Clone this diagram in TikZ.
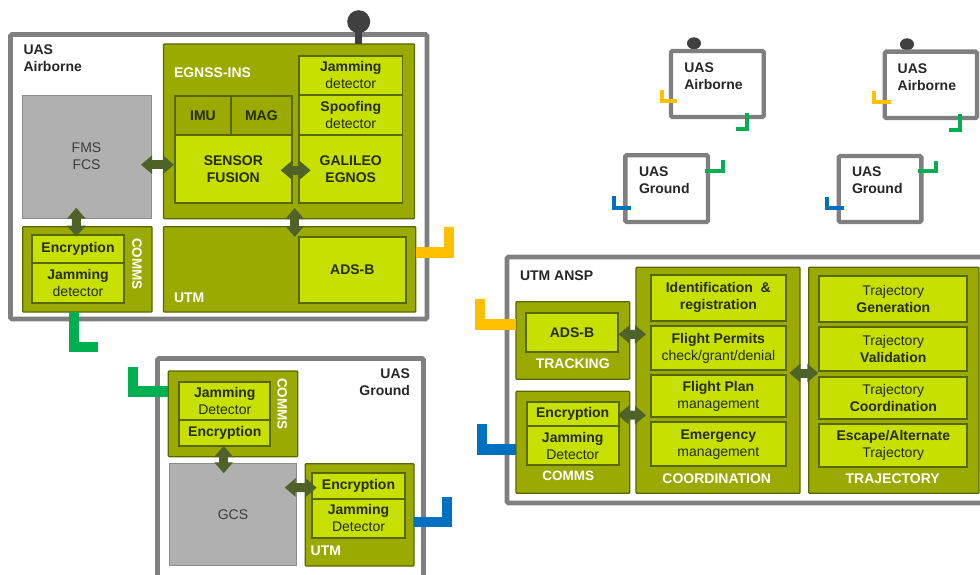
\documentclass[tikz,border=0pt]{standalone}
\usepackage{fontspec}
\setmainfont{Liberation Sans}
\usetikzlibrary{arrows.meta,shapes.geometric}
\definecolor{panelc}{RGB}{155,170,0}
\definecolor{limec}{RGB}{200,224,0}
\definecolor{edgec}{RGB}{88,104,0}
\definecolor{arrowc}{RGB}{79,98,40}
\definecolor{framec}{RGB}{127,127,127}
\definecolor{grayc}{RGB}{176,176,176}
\definecolor{goldc}{RGB}{255,192,0}
\definecolor{greenc}{RGB}{0,176,80}
\definecolor{bluec}{RGB}{0,112,192}
\definecolor{inkc}{RGB}{38,38,38}
\definecolor{softc}{RGB}{40,45,5}
\newcommand\bx[7][]{\node[boxbase,#1,minimum width={(#5-#3)*1pt},minimum height={(#6-#4)*1pt}] (#2) at ({(#3+#5)/2},{(#4+#6)/2}) {#7};}
\tikzset{
  boxbase/.style={inner sep=0pt,outer sep=0pt,align=center,text=softc,font=\fontsize{14}{17}\selectfont},
  panel/.style={draw=edgec,line width=1.2pt,fill=panelc,rounded corners=0.8pt},
  limebox/.style={draw=edgec,line width=1.8pt,fill=limec},
  olivebox/.style={draw=edgec,line width=1.8pt,fill=panelc},
  graybox/.style={draw=gray!90,line width=0.8pt,fill=grayc,text=inkc!90},
  frame/.style={draw=framec,line width=4.7pt,fill=white,rounded corners=1.5pt},
  smallframe/.style={draw=framec,line width=4.4pt,fill=white,rounded corners=1.5pt},
  whitelabel/.style={inner sep=0pt,outer sep=0pt,text=white,font=\fontsize{14}{17}\selectfont\bfseries},
  blacklabel/.style={inner sep=0pt,outer sep=0pt,align=left,text=inkc,font=\fontsize{14}{17}\selectfont\bfseries},
  biarrow/.style={draw=arrowc,line width=9pt,{Triangle[width=18pt,length=11pt]}-{Triangle[width=18pt,length=11pt]}},
  bigwire/.style={draw=#1,line width=10.5pt},
  smallwire/.style={draw=#1,line width=4pt},
  ant/.style={fill=black!75,draw=none,inner sep=0pt,outer sep=0pt}
}
\begin{document}
\begin{tikzpicture}[x=1pt,y=-1pt]
\useasboundingbox (0,0) rectangle (980,575);
\clip (0,0) rectangle (980,575);
\fill[white] (0,0) rectangle (980,575);
% ---- large airborne
\node[ant,circle,minimum size=23pt] (antA) at (358.7,21.7) {};
\bx[frame]{frameA}{10.5}{34.5}{427}{319}{}
\node[blacklabel,anchor=north west] (lblA) at (23.5,45) {UAS\\Airborne};
\bx[panel]{egnss}{163.5}{44}{414.5}{218.7}{}
\draw[ant,draw=black!75,line width=7pt] (antA.center) -- (egnss.north -| antA);
\bx[graybox]{fms}{22}{95}{151}{218}{FMS\\FCS}
\node[whitelabel,anchor=west] (lblE) at (174,73) {EGNSS-INS};
\bx[limebox]{jamA}{299}{56}{402.5}{94.7}{\textbf{Jamming}\\detector}
\bx[limebox]{spoof}{299}{94.7}{402.5}{135}{\textbf{Spoofing}\\detector}
\bx[limebox]{gal}{299}{135}{402.5}{203}{\textbf{GALILEO}\\\textbf{EGNOS}}
\bx[olivebox]{imu}{175}{95.7}{231}{135}{\textbf{IMU}}
\bx[olivebox]{mag}{231}{95.7}{291.7}{135}{\textbf{MAG}}
\bx[limebox]{sf}{175}{135}{291.7}{203}{\textbf{SENSOR}\\\textbf{FUSION}}
\bx[panel]{commsA}{22.7}{226.7}{152}{312}{}
\bx[limebox]{encA}{32}{235}{124}{263}{\textbf{Encryption}}
\bx[limebox]{jamB}{32}{263}{124}{302.7}{\textbf{Jamming}\\detector}
\node[whitelabel,rotate=-90,font=\fontsize{13.5}{16}\selectfont\bfseries] (lblCA) at (137,264) {COMMS};
\bx[panel]{utmA}{163.5}{226.7}{415.7}{312}{}
\bx[limebox]{adsA}{299}{237}{405.7}{302.7}{\textbf{ADS-B}}
\node[whitelabel,anchor=west] (lblUA) at (174,297.7) {UTM};
\draw[biarrow] ([shift={(-10,8.2)}]fms.east) -- ([shift={(-1,-4.3)}]sf.west);
\draw[biarrow] ([shift={(-11,1.3)}]sf.east) -- ([shift={(11.7,1.3)}]gal.west);
\draw[biarrow] ([shift={(5.7,-10.7)}]egnss.south) -- ([shift={(5.1,10.3)}]utmA.north);
\draw[biarrow] ([shift={(-10.2,-10.3)}]fms.south) -- ([shift={(-11,10)}]commsA.north);
\draw[bigwire=goldc] ([shift={(0,-16.85)}]utmA.east) -| ++(33.3,-25.5);
\draw[bigwire=greenc] ([xshift=-13.6pt]commsA.south) |- ++(24.6,35);
% ---- large ground
\bx[frame]{frameG}{157.5}{358.5}{423.5}{590}{}
\node[blacklabel,anchor=north east,align=right] (lblG) at (410,369) {UAS\\Ground};
\bx[panel]{commsG}{168.3}{371}{297.7}{456.7}{}
\bx[limebox]{jamG}{179.3}{381.7}{270.3}{420.3}{\textbf{Jamming}\\Detector}
\bx[limebox]{encG}{179.3}{420.3}{270.3}{446}{\textbf{Encryption}}
\node[whitelabel,rotate=-90,font=\fontsize{13.5}{16}\selectfont\bfseries] (lblCG) at (282.3,404) {COMMS};
\bx[graybox]{gcs}{169.3}{463.7}{296.7}{565.3}{GCS}
\bx[panel]{utmG}{305.3}{463.7}{414}{566}{}
\bx[limebox]{encU}{312.3}{473.3}{404.7}{498.7}{\textbf{Encryption}}
\bx[limebox]{jamU}{312.3}{498.7}{404.7}{538}{\textbf{Jamming}\\Detector}
\node[whitelabel,anchor=west] (lblUG) at (310.7,551) {UTM};
\draw[biarrow] ([shift={(-9.3,-10.9)}]gcs.north |- commsG.south) -- ([shift={(-9.3,9.6)}]gcs.north);
\draw[biarrow] ([shift={(-12,-27)}]gcs.east) -- ([shift={(4.4,1.7)}]encU.west);
\draw[bigwire=greenc] ([shift={(0,-22.15)}]commsG.west) -| ++(-35.3,-25);
\draw[bigwire=bluec] ([shift={(0,7.15)}]utmG.east) -| ++(33.2,-25.3);
% ---- ANSP
\bx[frame]{frameU}{507}{257}{995}{503}{}
\node[blacklabel,anchor=west] (lblU) at (520,276) {UTM ANSP};
\bx[panel]{track}{516}{301.7}{629.7}{379.3}{}
\bx[limebox]{adsU}{526}{313.3}{618}{352.3}{\textbf{ADS-B}}
\node[whitelabel] (lblT) at (572.7,363.7) {TRACKING};
\bx[panel]{commsU}{516}{391.3}{629.7}{493.3}{}
\bx[limebox]{encC}{526.7}{401.7}{618.7}{426}{\textbf{Encryption}}
\bx[limebox]{jamC}{526.7}{426}{618.7}{465.3}{\textbf{Jamming}\\Detector}
\node[whitelabel,font=\fontsize{13.5}{16}\selectfont\bfseries] (lblCU) at (568.3,476.3) {COMMS};
\bx[panel]{coord}{636}{267.3}{800}{493.3}{}
\bx[limebox]{idr}{650.7}{275}{786}{320.7}{\textbf{Identification~ \&}\\\textbf{registration}}
\bx[limebox]{perm}{650.7}{326.3}{786}{370}{\textbf{Flight Permits}\\check/grant/denial}
\bx[limebox]{plan}{650.7}{375.3}{786}{417.3}{\textbf{Flight Plan}\\management}
\bx[limebox]{emer}{650.7}{422.3}{786}{466}{\textbf{Emergency}\\management}
\node[whitelabel] (lblCo) at (716.7,478.3) {COORDINATION};
\bx[panel]{traj}{808.7}{267.3}{979}{493.3}{}
\bx[limebox]{tgen}{819.3}{275.7}{967.3}{321.7}{Trajectory\\\textbf{Generation}}
\bx[limebox]{tval}{819.3}{327}{967.3}{371.3}{Trajectory\\\textbf{Validation}}
\bx[limebox]{tcoo}{819.3}{376.7}{967.3}{418.7}{Trajectory\\\textbf{Coordination}}
\bx[limebox]{tesc}{819.3}{424}{967.3}{466.7}{\textbf{Escape/Alternate}\\Trajectory}
\node[whitelabel] (lblTr) at (892.7,478.3) {TRAJECTORY};
\draw[biarrow] ([shift={(0.7,1.5)}]adsU.east) -- ([shift={(-4.7,-13.8)}]perm.west);
\draw[biarrow] ([shift={(-1,1.1)}]encC.east) -- ([shift={(-4.7,19)}]plan.west -| perm.west);
\draw[biarrow] ([shift={(-10.7,-7.3)}]coord.east) -- ([shift={(9.6,-7.3)}]traj.west);
\draw[bigwire=goldc] ([shift={(0,-16.2)}]track.west) -| ++(-36,-25);
\draw[bigwire=bluec] ([shift={(0,7.4)}]commsU.west) -| ++(-34,-25.4);
% ---- small airborne
\node[ant,ellipse,minimum width=14pt,minimum height=12pt] (antS1) at (694,43.3) {};
\node[ant,ellipse,minimum width=14pt,minimum height=12pt] (antS2) at (907,44.3) {};
\bx[smallframe]{sa1}{671}{51}{763.7}{117}{}
\bx[smallframe]{sa2}{884.7}{51.7}{977}{118}{}
\node[blacklabel,anchor=north west] (tsa1) at (684.3,63) {UAS\\Airborne};
\node[blacklabel,anchor=north west] (tsa2) at (897.7,63.7) {UAS\\Airborne};
\draw[smallwire=goldc] ([shift={(6.3,17)}]sa1.west) -| ++(-15.6,-11);
\draw[smallwire=goldc] ([shift={(6,17.15)}]sa2.west) -| ++(-16.4,-11);
\draw[smallwire=greenc] ([shift={(30,-3.7)}]sa1.south) |- ++(-11.6,15.7);
\draw[smallwire=greenc] ([shift={(29.2,-3.7)}]sa2.south) |- ++(-10.7,15.7);
% ---- small ground
\bx[smallframe]{sg1}{625.3}{155.3}{708}{222}{}
\bx[smallframe]{sg2}{838.7}{156}{921.3}{222}{}
\node[blacklabel,anchor=north west] (tsg1) at (639,166.5) {UAS\\Ground};
\node[blacklabel,anchor=north west] (tsg2) at (852,167) {UAS\\Ground};
\draw[smallwire=greenc] ([shift={(-3,-18)}]sg1.east) -| ++(17.7,-10.7);
\draw[smallwire=greenc] ([shift={(-3,-18)}]sg2.east) -| ++(17.4,-10.3);
\draw[smallwire=bluec] ([shift={(5.4,19)}]sg1.west) -| ++(-16.7,-12);
\draw[smallwire=bluec] ([shift={(5.3,19.3)}]sg2.west) -| ++(-16.7,-11.6);
\end{tikzpicture}
\end{document}
